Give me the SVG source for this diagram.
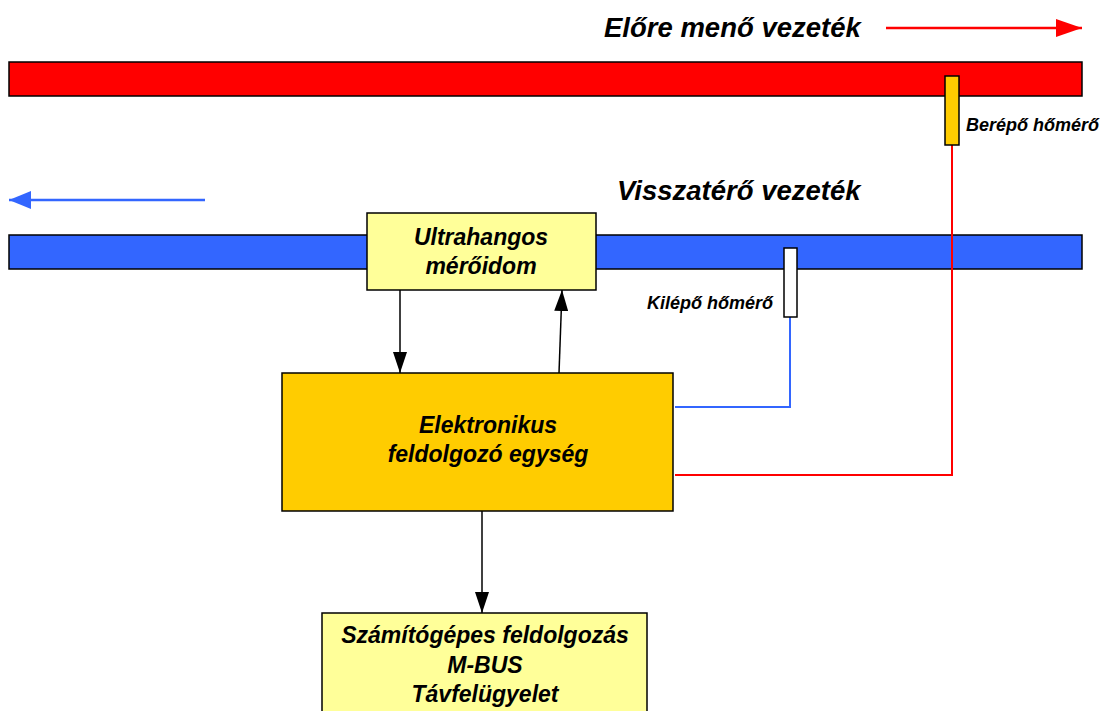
<svg xmlns="http://www.w3.org/2000/svg" width="1104" height="711" viewBox="0 0 1104 711">
<style>
text{font-family:"Liberation Sans",Arial,sans-serif;font-weight:bold;font-style:italic;fill:#000}
.title{font-size:27.5px}
.lbl{font-size:18px}
.box{font-size:23px;text-anchor:middle}
.edge{stroke:#000;stroke-width:1.5;fill:none}
</style>
<defs>
<marker id="ah" viewBox="0 0 10 10" refX="10" refY="5" markerWidth="21" markerHeight="14" markerUnits="userSpaceOnUse" orient="auto" preserveAspectRatio="none">
<path d="M0,0L10,5L0,10z" fill="#000"/>
</marker>
<marker id="ahr" viewBox="0 0 10 10" refX="10" refY="5" markerWidth="26" markerHeight="18" markerUnits="userSpaceOnUse" orient="auto" preserveAspectRatio="none">
<path d="M0,0L10,5L0,10z" fill="#FF0000"/>
</marker>
<marker id="ahb" viewBox="0 0 10 10" refX="10" refY="5" markerWidth="22" markerHeight="18" markerUnits="userSpaceOnUse" orient="auto" preserveAspectRatio="none">
<path d="M0,0L10,5L0,10z" fill="#3366FF"/>
</marker>
</defs>
<g id="supply-pipe">
<rect x="9" y="62" width="1073" height="34" fill="#FF0000" stroke="#000" stroke-width="1.5"/>
<text class="title" x="604" y="37">Előre menő vezeték</text>
<line x1="886" y1="28" x2="1082" y2="28" stroke="#FF0000" stroke-width="2.5" marker-end="url(#ahr)"/>
</g>
<g id="return-pipe">
<rect x="9" y="235" width="1073" height="34" fill="#3366FF" stroke="#000" stroke-width="1.5"/>
<text class="title" x="617" y="200">Visszatérő vezeték</text>
<line x1="205" y1="200" x2="9" y2="200" stroke="#3366FF" stroke-width="2.5" marker-end="url(#ahb)"/>
</g>
<g id="connectors">
<polyline points="952,145 952,475 675,475" fill="none" stroke="#FF0000" stroke-width="2"/>
<polyline points="790,317 790,407 675,407" fill="none" stroke="#3366FF" stroke-width="2"/>
<line class="edge" x1="400" y1="290" x2="400" y2="373" marker-end="url(#ah)"/>
<line class="edge" x1="559" y1="373" x2="562" y2="290" marker-end="url(#ah)"/>
<line class="edge" x1="482" y1="511" x2="482" y2="613" marker-end="url(#ah)"/>
</g>
<g id="inlet-sensor">
<rect x="945" y="76" width="14" height="69" fill="#FFCC00" stroke="#000" stroke-width="1.5"/>
<text class="lbl" x="966" y="131">Berépő hőmérő</text>
</g>
<g id="outlet-sensor">
<rect x="784" y="248" width="13" height="69" fill="#FFFFFF" stroke="#000" stroke-width="1.5"/>
<text class="lbl" x="773" y="309" text-anchor="end">Kilépő hőmérő</text>
</g>
<g id="flow-meter">
<rect x="367" y="213" width="229" height="77" fill="#FFFF99" stroke="#000" stroke-width="1.5"/>
<text class="box" x="481" y="245">Ultrahangos</text>
<text class="box" x="481" y="274">mérőidom</text>
</g>
<g id="processor">
<rect x="282" y="373" width="391" height="138" fill="#FFCC00" stroke="#000" stroke-width="1.5"/>
<text class="box" x="488" y="433">Elektronikus</text>
<text class="box" x="488" y="462">feldolgozó egység</text>
</g>
<g id="remote">
<rect x="322" y="613" width="325" height="110" fill="#FFFF99" stroke="#000" stroke-width="1.5"/>
<text class="box" x="485" y="643">Számítógépes feldolgozás</text>
<text class="box" x="485" y="673">M-BUS</text>
<text class="box" x="485" y="702">Távfelügyelet</text>
</g>
</svg>
